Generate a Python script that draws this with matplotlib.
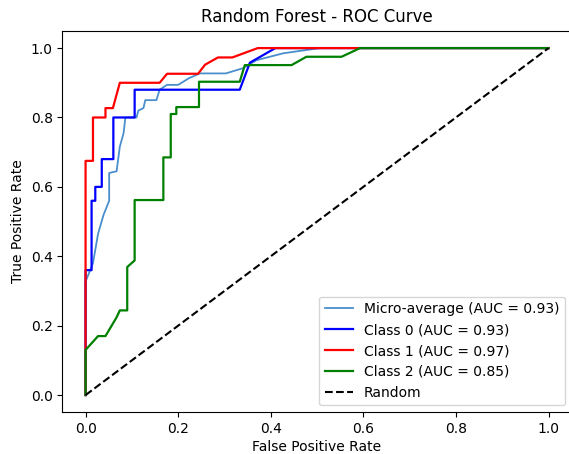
import matplotlib
matplotlib.use("Agg")
import matplotlib.pyplot as plt

# Krzywe ROC (FPR, TPR)
micro_fpr = [0.0, 0.0, 0.016, 0.027, 0.039, 0.051, 0.051, 0.067, 0.074, 0.082, 0.086, 0.11, 0.114,
             0.125, 0.129, 0.153, 0.16, 0.176, 0.2, 0.223, 0.247, 0.303, 0.34, 0.369, 0.427, 0.485,
             0.506, 1.0]
micro_tpr = [0.0, 0.327, 0.38, 0.465, 0.52, 0.56, 0.64, 0.645, 0.716, 0.754, 0.80, 0.80, 0.82,
             0.827, 0.85, 0.85, 0.88, 0.894, 0.894, 0.913, 0.927, 0.927, 0.942, 0.965, 0.985, 0.996,
             1.0, 1.0]

class0_fpr = [0.0, 0.0, 0.013, 0.013, 0.021, 0.021, 0.035, 0.035, 0.06, 0.06, 0.106, 0.106,
              0.333, 0.355, 0.41, 1.0]
class0_tpr = [0.0, 0.36, 0.36, 0.56, 0.56, 0.60, 0.60, 0.68, 0.68, 0.80, 0.80, 0.88,
              0.88, 0.958, 1.0, 1.0]

class1_fpr = [0.0, 0.0, 0.016, 0.016, 0.043, 0.043, 0.059, 0.074, 0.16, 0.176, 0.243, 0.258,
              0.286, 0.317, 0.372, 1.0]
class1_tpr = [0.0, 0.675, 0.675, 0.80, 0.80, 0.827, 0.827, 0.90, 0.90, 0.926, 0.926, 0.952,
              0.973, 0.973, 1.0, 1.0]

class2_fpr = [0.0, 0.0, 0.027, 0.043, 0.067, 0.074, 0.09, 0.09, 0.106, 0.106, 0.168, 0.168,
              0.184, 0.184, 0.196, 0.196, 0.245, 0.245, 0.333, 0.344, 0.445, 0.477, 0.553,
              0.593, 1.0]
class2_tpr = [0.0, 0.13, 0.17, 0.17, 0.224, 0.244, 0.244, 0.369, 0.388, 0.562, 0.562, 0.685,
              0.685, 0.81, 0.81, 0.83, 0.83, 0.903, 0.903, 0.951, 0.951, 0.975, 0.975,
              1.0, 1.0]

auc_micro = 0.93
auc_class = [0.93, 0.97, 0.85]

fig = plt.figure(figsize=(5.69, 4.54), dpi=100)
ax = fig.add_axes([0.1097, 0.0916, 0.895, 0.8407])

ax.plot(micro_fpr, micro_tpr, color="#4a8fcc", lw=1.3,
        label=f"Micro-average (AUC = {auc_micro:.2f})")
ax.plot(class0_fpr, class0_tpr, color="blue", lw=1.6, label=f"Class 0 (AUC = {auc_class[0]:.2f})")
ax.plot(class1_fpr, class1_tpr, color="red", lw=1.6, label=f"Class 1 (AUC = {auc_class[1]:.2f})")
ax.plot(class2_fpr, class2_tpr, color="green", lw=1.6, label=f"Class 2 (AUC = {auc_class[2]:.2f})")
ax.plot([0, 1], [0, 1], "k--", lw=1.5, label="Random")

ax.set_xlim(-0.05, 1.05)
ax.set_ylim(-0.05, 1.05)
ax.set_title("Random Forest - ROC Curve", fontsize=12)
ax.set_xlabel("False Positive Rate", fontsize=10, labelpad=3)
ax.set_ylabel("True Positive Rate", fontsize=10)
ax.legend(loc="lower right", fontsize=10)

fig.savefig("out.png", dpi=100)
